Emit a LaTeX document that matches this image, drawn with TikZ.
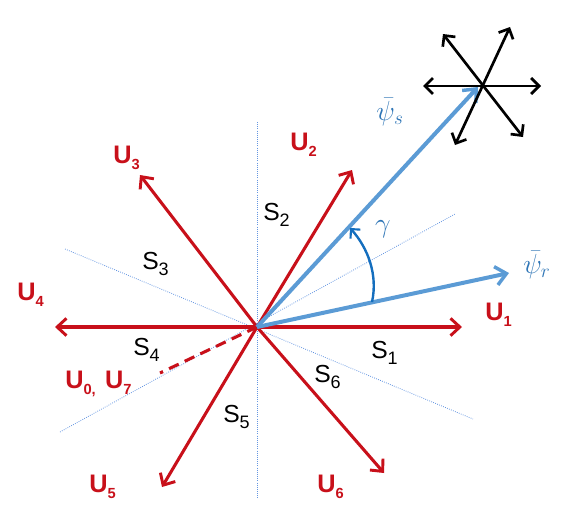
\documentclass[tikz,border=0pt]{standalone}
\usepackage{fontspec}
\setmainfont{Liberation Sans}
\usetikzlibrary{arrows.meta}
\definecolor{ured}{RGB}{200,16,26}
\definecolor{psiblue}{RGB}{91,155,213}
\definecolor{gblue}{RGB}{20,110,190}
\definecolor{lblue}{RGB}{46,117,182}
\definecolor{dotblue}{RGB}{100,150,225}
\newcommand\ulabtext[2]{#1\raisebox{-5pt}{\fontsize{11}{11}\selectfont #2}}
\newcommand\slabtext[2]{#1\raisebox{-4.5pt}{\fontsize{13.5}{13.5}\selectfont #2}}
\tikzset{
  uvec/.style={ured, line width=2.3pt, -{Straight Barb[length=7pt,width=13pt,line width=2.2pt]}},
  psivec/.style={psiblue, line width=3pt, -{Straight Barb[length=8pt,width=14pt,line width=2.6pt]}},
  starvec/.style={black, line width=2pt, {Straight Barb[length=6pt,width=12pt,line width=2pt]}-{Straight Barb[length=6pt,width=12pt,line width=2pt]}},
  sector/.style={dotblue, line width=0.6pt, densely dotted},
  ulab/.style={ured, font=\bfseries\fontsize{19}{19}\selectfont, inner sep=0pt, anchor=base west},
  slab/.style={black, font=\fontsize{18.5}{18.5}\selectfont, inner sep=0pt, anchor=base west},
  plab/.style={lblue, inner sep=0pt},
}
\begin{document}
\begin{tikzpicture}[x=0.75pt,y=-0.75pt]
\useasboundingbox (0,0) rectangle (570,529);
\coordinate (O) at (257,327);
% sector lines
\coordinate (v1) at (257,122); \coordinate (v2) at (257,498);
\coordinate (a1) at (60,432); \coordinate (a2) at (455,214);
\coordinate (b1) at (65,249); \coordinate (b2) at (473,419);
\draw[sector] (v1) -- (v2);
\draw[sector] (a1) -- (a2);
\draw[sector] (b1) -- (b2);
% dashed zero vector
\coordinate (z) at (160,373);
\draw[ured, line width=2.3pt, dash pattern=on 8pt off 5pt] (O) -- (z);
% voltage vectors
\coordinate (t1) at (462,327);
\coordinate (t2) at (352,170);
\coordinate (t3) at (140,175);
\coordinate (t4) at (55,327);
\coordinate (t5) at (162,487);
\coordinate (t6) at (384,473);
\draw[uvec] (O) -- (t1);
\draw[uvec] (O) -- (t2);
\draw[uvec] (O) -- (t3);
\draw[uvec] (O) -- (t4);
\draw[uvec] (O) -- (t5);
\draw[uvec] (O) -- (t6);
% flux vectors
\coordinate (S) at (478,87);
\coordinate (R) at (509,273);
\draw[psivec] (O) -- (S);
\draw[psivec] (O) -- (R);
% star
\coordinate (h1) at (423,86); \coordinate (h2) at (541,86);
\coordinate (d1) at (443,34); \coordinate (d2) at (523,137);
\coordinate (e1) at (510,27); \coordinate (e2) at (455,145);
\draw[starvec] (h1) -- (h2);
\draw[starvec] (d1) -- (d2);
\draw[starvec] (e2) -- (e1);
% gamma arc
\coordinate (g1) at (372,302);
\coordinate (g2) at (350,228);
\draw[gblue, line width=1.8pt, -{Straight Barb[length=5pt,width=10pt,line width=1.6pt]}] (g1) .. controls (378,275) and (368,248) .. (g2);
\node[plab] (gam) at (383,229) {\fontsize{21}{21}\selectfont$\gamma$};
% labels
\node[plab] (ls) at (390,112) {\fontsize{21}{21}\selectfont$\bar{\psi}_s$};
\node[plab] (lr) at (537,265) {\fontsize{21}{21}\selectfont$\bar{\psi}_r$};
\node[ulab] (U1) at (485,320) {\ulabtext{U}{1}};
\node[ulab] (U2) at (290,150) {\ulabtext{U}{2}};
\node[ulab] (U3) at (113,163) {\ulabtext{U}{3}};
\node[ulab] (U4) at (17,300) {\ulabtext{U}{4}};
\node[ulab] (U5) at (89,492) {\ulabtext{U}{5}};
\node[ulab] (U6) at (317,492) {\ulabtext{U}{6}};
\node[ulab] (U07) at (65,388) {\ulabtext{U}{0,}\hspace{7pt}\ulabtext{U}{7}};
\node[slab] (S1) at (371,358) {\slabtext{S}{1}};
\node[slab] (S2) at (263,220) {\slabtext{S}{2}};
\node[slab] (S3) at (142,269) {\slabtext{S}{3}};
\node[slab] (S4) at (133,355) {\slabtext{S}{4}};
\node[slab] (S5) at (223,422) {\slabtext{S}{5}};
\node[slab] (S6) at (314,382) {\slabtext{S}{6}};
\end{tikzpicture}
\end{document}
